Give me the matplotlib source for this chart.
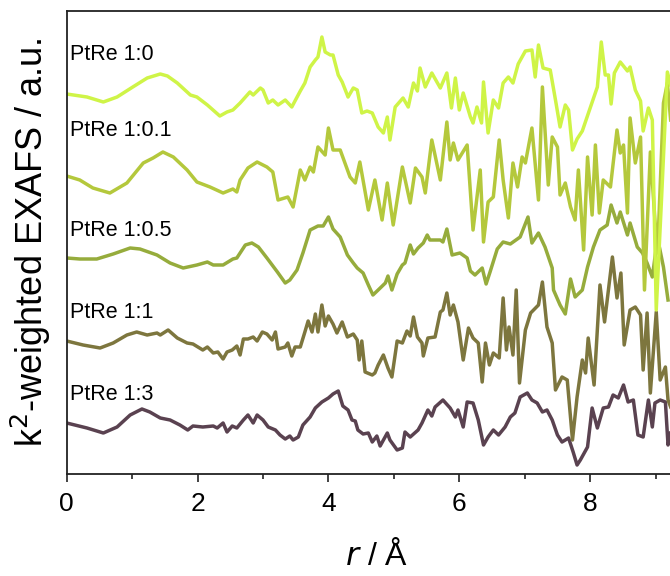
import matplotlib
matplotlib.use("Agg")
import matplotlib.pyplot as plt
import numpy as np

plt.rcParams['font.family'] = ['Liberation Sans', 'DejaVu Sans']

# ---------------- data (r in Angstrom, signal in a.u., before vertical offset) ----------------
labels = ["PtRe 1:0", "PtRe 1:0.1", "PtRe 1:0.5", "PtRe 1:1", "PtRe 1:3"]
colors = ["#cff447", "#b4c83c", "#96ac3c", "#7d763e", "#5a4250"]
offsets = [3.79, 2.98, 2.16, 1.33, 0.51]
label_y = [4.19, 3.43, 2.44, 1.61, 0.80]

r_10 = [0.00, 0.31, 0.56, 0.77, 1.01, 1.23, 1.43, 1.54, 1.69, 1.89, 1.99, 2.15, 2.34, 2.45, 2.54, 2.65,
        2.80, 2.85, 2.96, 3.00, 3.08, 3.15, 3.23, 3.34, 3.44, 3.57, 3.64, 3.72, 3.80, 3.84, 3.90, 3.95,
        4.03, 4.07, 4.15, 4.21, 4.30, 4.38, 4.44, 4.51, 4.59, 4.67, 4.76, 4.84, 4.90, 4.94, 5.02, 5.14,
        5.22, 5.30, 5.36, 5.40, 5.48, 5.58, 5.71, 5.81, 5.88, 5.94, 6.00, 6.06, 6.17, 6.21, 6.27, 6.34,
        6.37, 6.44, 6.52, 6.60, 6.67, 6.75, 6.82, 6.90, 7.01, 7.11, 7.16, 7.21, 7.28, 7.39, 7.47, 7.54,
        7.62, 7.67, 7.73, 7.80, 7.88, 8.00, 8.11, 8.17, 8.23, 8.28, 8.32, 8.37, 8.46, 8.57, 8.61, 8.69,
        8.77, 8.81, 8.89, 8.95, 9.01, 9.09, 9.18, 9.23]
y_10 = [0.01, -0.02, -0.07, -0.02, 0.08, 0.17, 0.21, 0.19, 0.12, 0.00, -0.02, -0.10, -0.21, -0.17, -0.15, -0.08,
        0.03, 0.00, 0.07, 0.05, -0.08, -0.05, -0.10, -0.05, -0.12, 0.04, 0.12, 0.28, 0.35, 0.38, 0.58, 0.43,
        0.40, 0.40, 0.20, 0.13, -0.02, 0.07, 0.05, -0.18, -0.16, -0.18, -0.32, -0.38, -0.22, -0.45, -0.12, -0.03,
        -0.12, 0.12, 0.04, 0.27, 0.08, 0.22, 0.07, 0.22, -0.13, 0.17, -0.15, 0.02, -0.22, -0.28, -0.12, -0.28,
        0.13, -0.38, -0.05, -0.13, 0.12, 0.18, 0.12, 0.31, 0.44, 0.45, 0.18, 0.50, 0.27, 0.25, -0.05, -0.32,
        -0.10, -0.15, -0.55, -0.44, -0.36, -0.13, 0.08, 0.53, 0.20, 0.20, -0.09, 0.22, 0.33, 0.24, 0.28, 0.05,
        -0.06, -0.36, -0.13, -0.25, -2.15, -1.05, 0.23, 0.10]

r_101 = [0.00, 0.20, 0.40, 0.66, 0.92, 1.17, 1.32, 1.47, 1.63, 1.84, 1.99, 2.19, 2.39, 2.54, 2.60, 2.65,
         2.77, 2.91, 3.06, 3.15, 3.23, 3.38, 3.46, 3.57, 3.64, 3.72, 3.77, 3.84, 3.95, 4.00, 4.07, 4.18,
         4.33, 4.41, 4.48, 4.61, 4.71, 4.82, 4.90, 4.99, 5.13, 5.25, 5.33, 5.43, 5.48, 5.58, 5.71, 5.81,
         5.86, 5.91, 5.98, 6.12, 6.21, 6.32, 6.37, 6.44, 6.52, 6.61, 6.67, 6.75, 6.82, 6.89, 6.96, 7.01,
         7.11, 7.21, 7.27, 7.36, 7.42, 7.50, 7.54, 7.62, 7.70, 7.77, 7.82, 7.90, 7.96, 8.03, 8.08, 8.14,
         8.20, 8.31, 8.41, 8.46, 8.51, 8.57, 8.61, 8.69, 8.77, 8.83, 8.92, 8.99, 9.03, 9.12, 9.18, 9.23]
y_101 = [0.00, -0.04, -0.12, -0.17, -0.07, 0.13, 0.18, 0.24, 0.19, 0.06, -0.06, -0.11, -0.17, -0.13, -0.16, -0.04,
         0.08, 0.14, 0.09, 0.04, -0.24, -0.21, -0.31, 0.06, -0.04, 0.09, 0.04, 0.29, 0.21, 0.48, 0.26, 0.26,
         -0.01, -0.07, 0.14, -0.34, -0.04, -0.44, -0.07, -0.49, 0.09, -0.27, 0.08, -0.01, -0.17, 0.36, -0.04, 0.54,
         0.16, 0.33, 0.16, 0.31, -0.54, 0.06, -0.66, -0.26, -0.21, 0.36, -0.04, -0.42, 0.13, -0.11, 0.19, 0.13,
         0.48, -0.24, 0.89, -0.09, 0.39, 0.29, -0.19, -0.07, -0.31, -0.44, 0.06, -0.74, 0.19, -0.39, 0.31, -0.37,
         -0.04, -0.11, 0.46, 0.23, 0.31, -0.37, 0.58, 0.13, 0.39, -1.14, 0.24, -0.44, -0.77, 0.73, 0.93, 0.56]

r_105 = [0.00, 0.20, 0.46, 0.71, 0.97, 1.12, 1.38, 1.58, 1.78, 1.99, 2.15, 2.24, 2.39, 2.54, 2.60, 2.73,
         2.83, 2.93, 3.06, 3.22, 3.34, 3.41, 3.52, 3.61, 3.72, 3.84, 3.92, 4.00, 4.07, 4.18, 4.29, 4.38,
         4.44, 4.53, 4.61, 4.68, 4.76, 4.87, 4.91, 4.97, 5.05, 5.13, 5.17, 5.25, 5.30, 5.37, 5.45, 5.51,
         5.55, 5.71, 5.75, 5.81, 5.89, 6.01, 6.12, 6.17, 6.24, 6.35, 6.41, 6.47, 6.58, 6.67, 6.78, 6.93,
         7.05, 7.11, 7.21, 7.31, 7.42, 7.44, 7.54, 7.62, 7.70, 7.77, 7.88, 7.96, 8.05, 8.15, 8.26, 8.32,
         8.41, 8.46, 8.57, 8.61, 8.72, 8.80, 8.87, 8.95, 9.03, 9.12, 9.19]
y_105 = [0.00, -0.01, -0.01, 0.04, 0.10, 0.09, 0.03, -0.05, -0.10, -0.07, -0.04, -0.07, -0.07, -0.01, 0.00, 0.13,
         0.15, 0.11, 0.00, -0.14, -0.25, -0.22, -0.12, 0.05, 0.28, 0.32, 0.32, 0.41, 0.29, 0.21, 0.03, -0.05,
         -0.10, -0.15, -0.27, -0.37, -0.32, -0.25, -0.18, -0.32, -0.16, -0.07, -0.05, 0.13, 0.04, 0.10, 0.15, 0.23,
         0.18, 0.18, 0.16, 0.29, 0.03, 0.05, 0.00, -0.13, -0.17, -0.10, -0.26, -0.14, 0.09, 0.16, 0.14, 0.21,
         0.41, 0.15, 0.25, 0.11, -0.10, -0.32, -0.47, -0.56, -0.21, -0.39, -0.32, -0.09, 0.11, 0.28, 0.33, 0.53,
         0.35, 0.46, 0.23, 0.35, 0.11, 0.05, -0.05, -0.19, 0.20, -0.09, -0.42]

r_11 = [0.00, 0.25, 0.51, 0.71, 0.92, 1.07, 1.23, 1.38, 1.43, 1.55, 1.69, 1.84, 1.93, 2.08, 2.15, 2.24,
        2.31, 2.39, 2.45, 2.53, 2.60, 2.65, 2.70, 2.77, 2.85, 2.91, 2.99, 3.06, 3.14, 3.19, 3.23, 3.34,
        3.38, 3.44, 3.49, 3.57, 3.64, 3.69, 3.75, 3.80, 3.84, 3.90, 3.95, 4.00, 4.07, 4.13, 4.21, 4.29,
        4.38, 4.44, 4.47, 4.51, 4.56, 4.67, 4.71, 4.76, 4.84, 4.91, 4.97, 5.05, 5.13, 5.20, 5.25, 5.30,
        5.36, 5.43, 5.45, 5.52, 5.63, 5.71, 5.75, 5.81, 5.86, 5.91, 5.98, 6.06, 6.14, 6.21, 6.29, 6.35,
        6.40, 6.46, 6.52, 6.61, 6.67, 6.72, 6.76, 6.82, 6.87, 6.92, 7.01, 7.09, 7.21, 7.27, 7.34, 7.42,
        7.47, 7.57, 7.65, 7.73, 7.80, 7.88, 7.93, 7.97, 8.06, 8.15, 8.22, 8.34, 8.41, 8.47, 8.52, 8.61,
        8.69, 8.77, 8.81, 8.87, 8.92, 9.01, 9.07, 9.15, 9.19, 9.23]
y_11 = [0.00, -0.04, -0.07, -0.02, 0.06, 0.09, 0.06, 0.08, 0.06, 0.11, 0.03, -0.02, -0.03, -0.09, -0.06, -0.12,
        -0.11, -0.18, -0.11, -0.09, -0.05, -0.14, 0.02, 0.02, 0.04, 0.00, 0.09, 0.07, 0.01, 0.09, -0.08, -0.06,
        -0.02, -0.15, -0.06, -0.06, 0.09, 0.20, 0.09, 0.27, 0.09, 0.36, 0.15, 0.25, 0.17, 0.08, 0.19, 0.04,
        0.07, 0.01, -0.19, 0.00, -0.31, -0.34, -0.32, -0.24, -0.14, -0.27, -0.36, 0.00, -0.02, 0.10, 0.05, 0.24,
        0.04, -0.02, -0.15, 0.03, 0.04, 0.29, 0.31, 0.48, 0.26, 0.36, 0.19, -0.19, 0.13, 0.03, -0.02, -0.41,
        -0.02, -0.24, -0.12, -0.17, 0.43, -0.09, 0.14, -0.14, 0.51, -0.42, 0.11, 0.28, 0.36, 0.59, 0.14, -0.02,
        -0.49, -0.36, -0.39, -0.99, -0.56, -0.19, -0.32, 0.03, -0.44, 0.56, 0.19, 0.84, 0.43, 0.68, -0.04, 0.31,
        0.34, 0.26, -0.29, 0.28, -0.52, 0.29, -0.39, -0.26, -0.59, -0.66]

r_13 = [0.00, 0.31, 0.56, 0.77, 0.97, 1.15, 1.27, 1.43, 1.58, 1.73, 1.85, 1.93, 2.08, 2.24, 2.30, 2.39,
        2.45, 2.53, 2.60, 2.70, 2.77, 2.85, 2.91, 3.00, 3.08, 3.19, 3.26, 3.34, 3.41, 3.46, 3.54, 3.61,
        3.72, 3.80, 3.90, 4.00, 4.07, 4.15, 4.22, 4.30, 4.36, 4.41, 4.45, 4.53, 4.61, 4.67, 4.74, 4.79,
        4.90, 4.94, 5.05, 5.13, 5.17, 5.25, 5.37, 5.43, 5.52, 5.58, 5.63, 5.75, 5.86, 5.94, 5.98, 6.06,
        6.12, 6.21, 6.29, 6.37, 6.44, 6.52, 6.60, 6.70, 6.78, 6.85, 6.93, 7.04, 7.11, 7.19, 7.27, 7.34,
        7.42, 7.50, 7.57, 7.67, 7.74, 7.80, 7.85, 7.96, 8.03, 8.11, 8.20, 8.28, 8.35, 8.43, 8.51, 8.58,
        8.66, 8.73, 8.81, 8.89, 8.95, 8.99, 9.07, 9.15, 9.19, 9.23]
y_13 = [0.00, -0.05, -0.10, -0.04, 0.08, 0.14, 0.11, 0.05, 0.03, -0.02, -0.07, -0.03, -0.04, -0.03, -0.05, 0.00,
        -0.09, -0.03, -0.05, 0.03, 0.08, 0.00, 0.08, 0.03, -0.04, -0.07, -0.12, -0.16, -0.13, -0.17, -0.14, -0.02,
        0.06, 0.15, 0.21, 0.25, 0.29, 0.32, 0.17, 0.13, 0.03, 0.02, -0.07, -0.11, -0.10, -0.19, -0.13, -0.23,
        -0.10, -0.17, -0.27, -0.25, -0.09, -0.14, -0.07, 0.00, 0.13, 0.07, 0.16, 0.23, 0.15, 0.06, 0.13, -0.04,
        0.21, 0.20, 0.03, -0.22, -0.14, -0.07, -0.12, -0.04, 0.06, 0.10, 0.26, 0.30, 0.23, 0.20, 0.11, 0.13,
        0.03, -0.12, -0.19, -0.15, -0.29, -0.42, -0.37, -0.24, 0.15, -0.05, 0.15, 0.16, 0.28, 0.25, 0.38, 0.21,
        0.23, -0.12, -0.14, 0.23, -0.04, 0.20, 0.23, 0.21, -0.22, -0.10]

r_series = [r_10, r_101, r_105, r_11, r_13]
y_series = [y_10, y_101, y_105, y_11, y_13]

# ---------------- figure ----------------
fig = plt.figure(figsize=(6.70, 5.76), dpi=100)
ax = fig.add_axes([66.7 / 670, 102 / 576, (687 - 66.7) / 670, 463 / 576])

for r, y, off, col in zip(r_series[::-1], y_series[::-1], offsets[::-1], colors[::-1]):
    ax.plot(r, np.array(y) + off, color=col, lw=2.5, solid_joinstyle='round')

for lab, ly in zip(labels, label_y):
    ax.text(0.05, ly, lab, fontsize=15.5, va='center', ha='left', color='black')

ax.set_xlim(0, 9.48)
ax.set_ylim(0, 4.63)
ax.set_xticks([0, 2, 4, 6, 8])
ax.set_xticks([1, 3, 5, 7, 9], minor=True)
ax.set_yticks([])
ax.tick_params(axis='x', which='major', length=6, width=1.2, labelsize=19, pad=7, colors='#222222', labelcolor='black')
ax.tick_params(axis='x', which='minor', length=3.5, width=1.2, colors='#222222')
ax.spines['right'].set_visible(False)
for s in ['left', 'top', 'bottom']:
    ax.spines[s].set_linewidth(1.3)
    ax.spines[s].set_color('#222222')

ax.set_xlabel(r"$\it{r}$ / Å", fontsize=23, labelpad=17)
ax.set_ylabel(r"k$^2$-weighted EXAFS / a.u.", fontsize=26, labelpad=10)

fig.savefig("out.png", dpi=100)
